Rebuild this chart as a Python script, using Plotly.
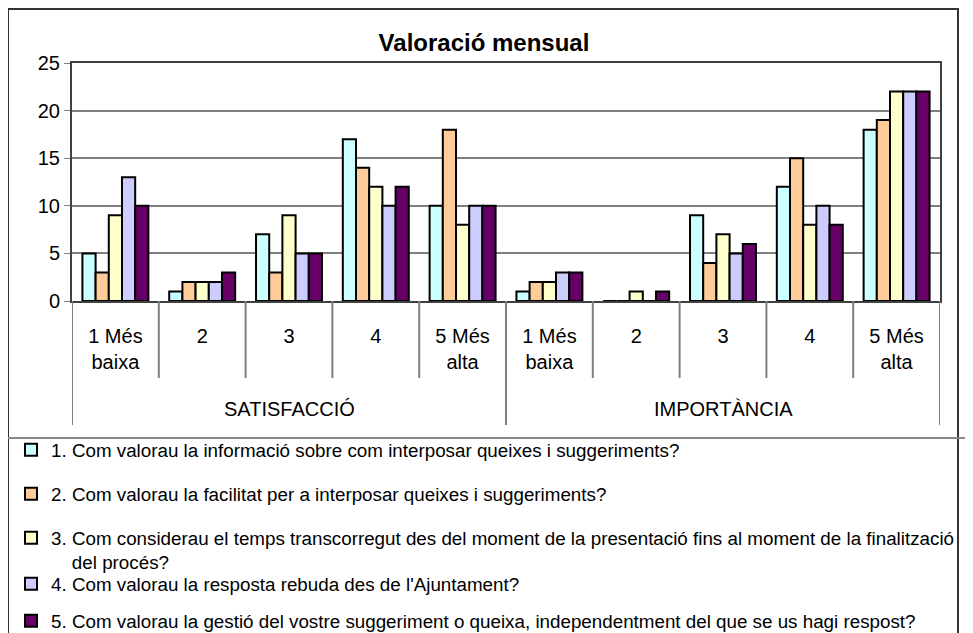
import plotly.graph_objects as go

# --- data ---
groups = ["SATISFACCIÓ", "IMPORTÀNCIA"]
levels = ["1 Més<br>baixa", "2", "3", "4", "5 Més<br>alta"]

questions = [
    "1. Com valorau la informació sobre com interposar queixes i suggeriments?",
    "2. Com valorau la facilitat per a interposar queixes i suggeriments?",
    "3. Com considerau el temps transcorregut des del moment de la presentació fins al moment de la finalització"
    "<br>\u00a0\u00a0\u00a0\u00a0del procés?",
    "4. Com valorau la resposta rebuda des de l'Ajuntament?",
    "5. Com valorau la gestió del vostre suggeriment o queixa, independentment del que se us hagi respost?",
]

# values per question: 5 satisfaction levels followed by 5 importance levels
q1 = [5, 1, 7, 17, 10, 1, 0, 9, 12, 18]
q2 = [3, 2, 3, 14, 18, 2, 0, 4, 15, 19]
q3 = [9, 2, 9, 12, 8, 2, 1, 7, 8, 22]
q4 = [13, 2, 5, 10, 10, 3, 0, 5, 10, 22]
q5 = [10, 3, 5, 12, 10, 3, 1, 6, 8, 22]
series = [q1, q2, q3, q4, q5]

colors = ["#CCFFFF", "#FFCC99", "#FFFFCC", "#CCCCFF", "#660066"]

# --- layout geometry, in page pixels ---
# the page body has an 8px margin, so the figure is 8px smaller than the window
OFF = 8
W, H = 973 - OFF, 633 - OFF
PL, PR, PT, PB = 72, 940, 63, 301  # plot area


def px(x):
    return (x - PL) / (PR - PL)


def py(y):
    return (PB - y) / (PB - PT)


FONT = "Liberation Sans, Arial, sans-serif"
positions = list(range(len(groups) * len(levels)))

fig = go.Figure()
legend_names = ["legend", "legend2", "legend3", "legend4", "legend5"]
for i, (name, vals) in enumerate(zip(questions, series)):
    fig.add_trace(go.Bar(
        x=positions, y=vals, name=name,
        marker=dict(color=colors[i], line=dict(color="black", width=2)),
        legend=legend_names[i],
        hoverinfo="y",
    ))

# one legend per question so entries sit where the original places them
legend_y = [450, 494, 550, 584, 621]
legends = {}
for name, ly in zip(legend_names, legend_y):
    legends[name] = dict(
        x=px(11), xanchor="left", y=py(ly), yanchor="middle",
        font=dict(family=FONT, size=18.8, color="black"),
        bgcolor="rgba(0,0,0,0)", valign="top", itemsizing="constant",
    )

shapes = []
# dividers between levels
for i in range(len(positions) - 1):
    if (i + 1) % len(levels) == 0:
        continue
    shapes.append(dict(type="line", xref="x", yref="paper", x0=i + 0.5, x1=i + 0.5,
                       y0=0, y1=py(378), line=dict(color="#808080", width=2)))
# dividers between groups
for b in [-0.5, 4.5, 9.5]:
    shapes.append(dict(type="line", xref="x", yref="paper", x0=b, x1=b,
                       y0=0, y1=py(425), line=dict(color="#808080", width=2)))
# outer chart frame and legend separator
shapes.append(dict(type="rect", xref="paper", yref="paper", x0=px(8), x1=px(958),
                   y0=py(9), y1=py(700), line=dict(color="#333333", width=2)))
shapes.append(dict(type="line", xref="paper", yref="paper", x0=px(0), x1=px(973),
                   y0=py(438), y1=py(438), line=dict(color="#888888", width=2)))

annotations = []
for gi, g in enumerate(groups):
    annotations.append(dict(
        text=g, x=gi * len(levels) + 2, xref="x", y=py(409), yref="paper",
        showarrow=False, yanchor="middle", font=dict(family=FONT, size=20, color="black"),
    ))

fig.update_layout(
    width=W, height=H,
    margin=dict(l=PL - OFF, r=W - (PR - OFF), t=PT - OFF, b=H - (PB - OFF), autoexpand=False),
    paper_bgcolor="white", plot_bgcolor="white",
    barmode="group", bargap=0.24, bargroupgap=0,
    title=dict(text="<b>Valoració mensual</b>", x=(484 - OFF) / W, xanchor="center",
               y=1 - (43 - OFF) / H, yanchor="middle",
               font=dict(family=FONT, size=24, color="black")),
    xaxis=dict(
        range=[-0.5, 9.5], tickvals=positions, ticktext=levels * len(groups),
        ticks="outside", ticklen=16, tickcolor="rgba(0,0,0,0)",
        tickfont=dict(family=FONT, size=20, color="black"),
        showline=True, linecolor="#404040", linewidth=2, mirror=True,
        showgrid=False, zeroline=False,
    ),
    yaxis=dict(
        range=[0, 25], dtick=5, ticks="outside", ticklen=6, tickcolor="#808080",
        tickfont=dict(family=FONT, size=20, color="black"),
        showline=True, linecolor="#404040", linewidth=2, mirror=True,
        showgrid=True, gridcolor="#808080", gridwidth=1.5, zeroline=False,
    ),
    shapes=shapes,
    annotations=annotations,
    showlegend=True,
    **legends,
)

fig.write_html("out.html")
